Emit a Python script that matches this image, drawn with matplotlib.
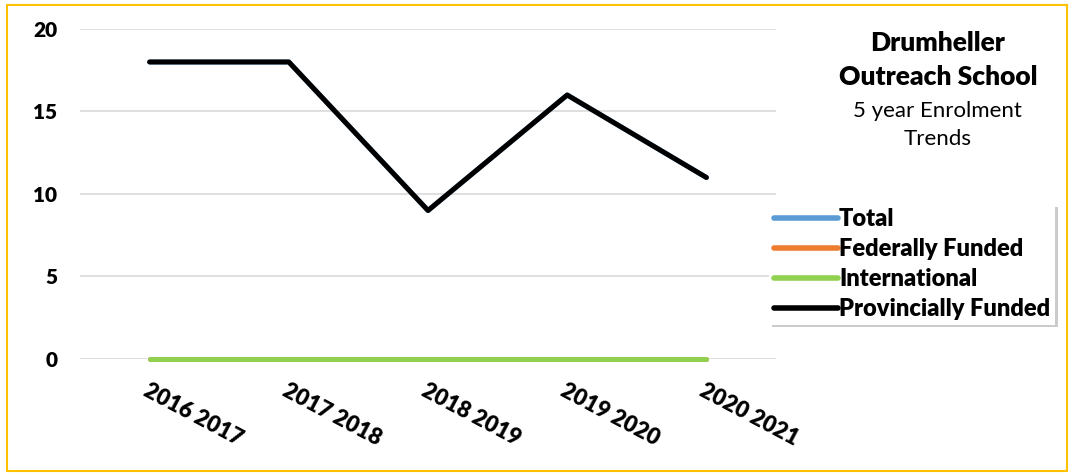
import matplotlib
matplotlib.use("Agg")
import matplotlib.pyplot as plt
from matplotlib.patches import Rectangle

plt.rcParams['font.family'] = ['Lato', 'DejaVu Sans']
plt.rcParams['font.weight'] = 'heavy'

# School years
years = ["2016 2017", "2017 2018", "2018 2019", "2019 2020", "2020 2021"]

# Enrolment per series
total = [18, 18, 9, 16, 11]
federal = [0, 0, 0, 0, 0]
international = [0, 0, 0, 0, 0]
provincial = [18, 18, 9, 16, 11]

fig = plt.figure(figsize=(10.73, 4.76), dpi=100)
ax = fig.add_axes([0.0746, 0.2458, 0.6486, 0.6933])

x = list(range(len(years)))
ax.plot(x, total, color='#5B9BD5', lw=3.6, solid_capstyle='round', clip_on=False, label='Total')
ax.plot(x, federal, color='#ED7D31', lw=3.6, solid_capstyle='round', clip_on=False, label='Federally Funded')
ax.plot(x, international, color='#92D050', lw=3.6, solid_capstyle='round', clip_on=False, label='International')
ax.plot(x, provincial, color='black', lw=3.6, solid_capstyle='round', clip_on=False, label='Provincially Funded')

ax.set_xlim(-0.5, len(years) - 0.5)
ax.set_ylim(0, 20)
ax.set_yticks([0, 5, 10, 15, 20])
ax.grid(axis='y', color='#D9D9D9', lw=1.2)
ax.set_axisbelow(True)
for s in ax.spines.values():
    s.set_visible(False)
ax.tick_params(length=0)
ax.tick_params(axis='y', pad=16.5, labelsize=15)

ax.set_xticks(x)
ax.set_xticklabels(years, rotation=-28, ha='left', va='top', rotation_mode='anchor',
                   fontsize=16, fontweight='heavy')
ax.tick_params(axis='x', pad=15)

# Title block on the right
fig.text(0.874, 0.910, "Drumheller", ha='center', va='center', fontsize=19, fontweight='heavy')
fig.text(0.874, 0.838, "Outreach School", ha='center', va='center', fontsize=19, fontweight='heavy')
fig.text(0.874, 0.767, "5 year Enrolment", ha='center', va='center', fontsize=16, fontweight='normal')
fig.text(0.874, 0.708, "Trends", ha='center', va='center', fontsize=16, fontweight='normal')

leg = fig.legend(loc='upper left', bbox_to_anchor=(0.717, 0.572), frameon=True, shadow={'color': '#999999', 'alpha': 0.5},
                 fancybox=False, handlelength=2.7, handletextpad=0.05, labelspacing=0.33,
                 borderpad=0.2, borderaxespad=0, prop={'weight': 'heavy', 'size': 17})
leg.get_frame().set_edgecolor('white')
leg.get_frame().set_linewidth(0)
for h in leg.get_lines():
    h.set_linewidth(4)
    h.set_solid_capstyle('round')

# Gold border round the chart
fig.patches.append(Rectangle((0.0065, 0.0105), 0.988, 0.978, transform=fig.transFigure,
                             fill=False, edgecolor='#FFC000', lw=1.5))

fig.savefig("out.png", dpi=100)
